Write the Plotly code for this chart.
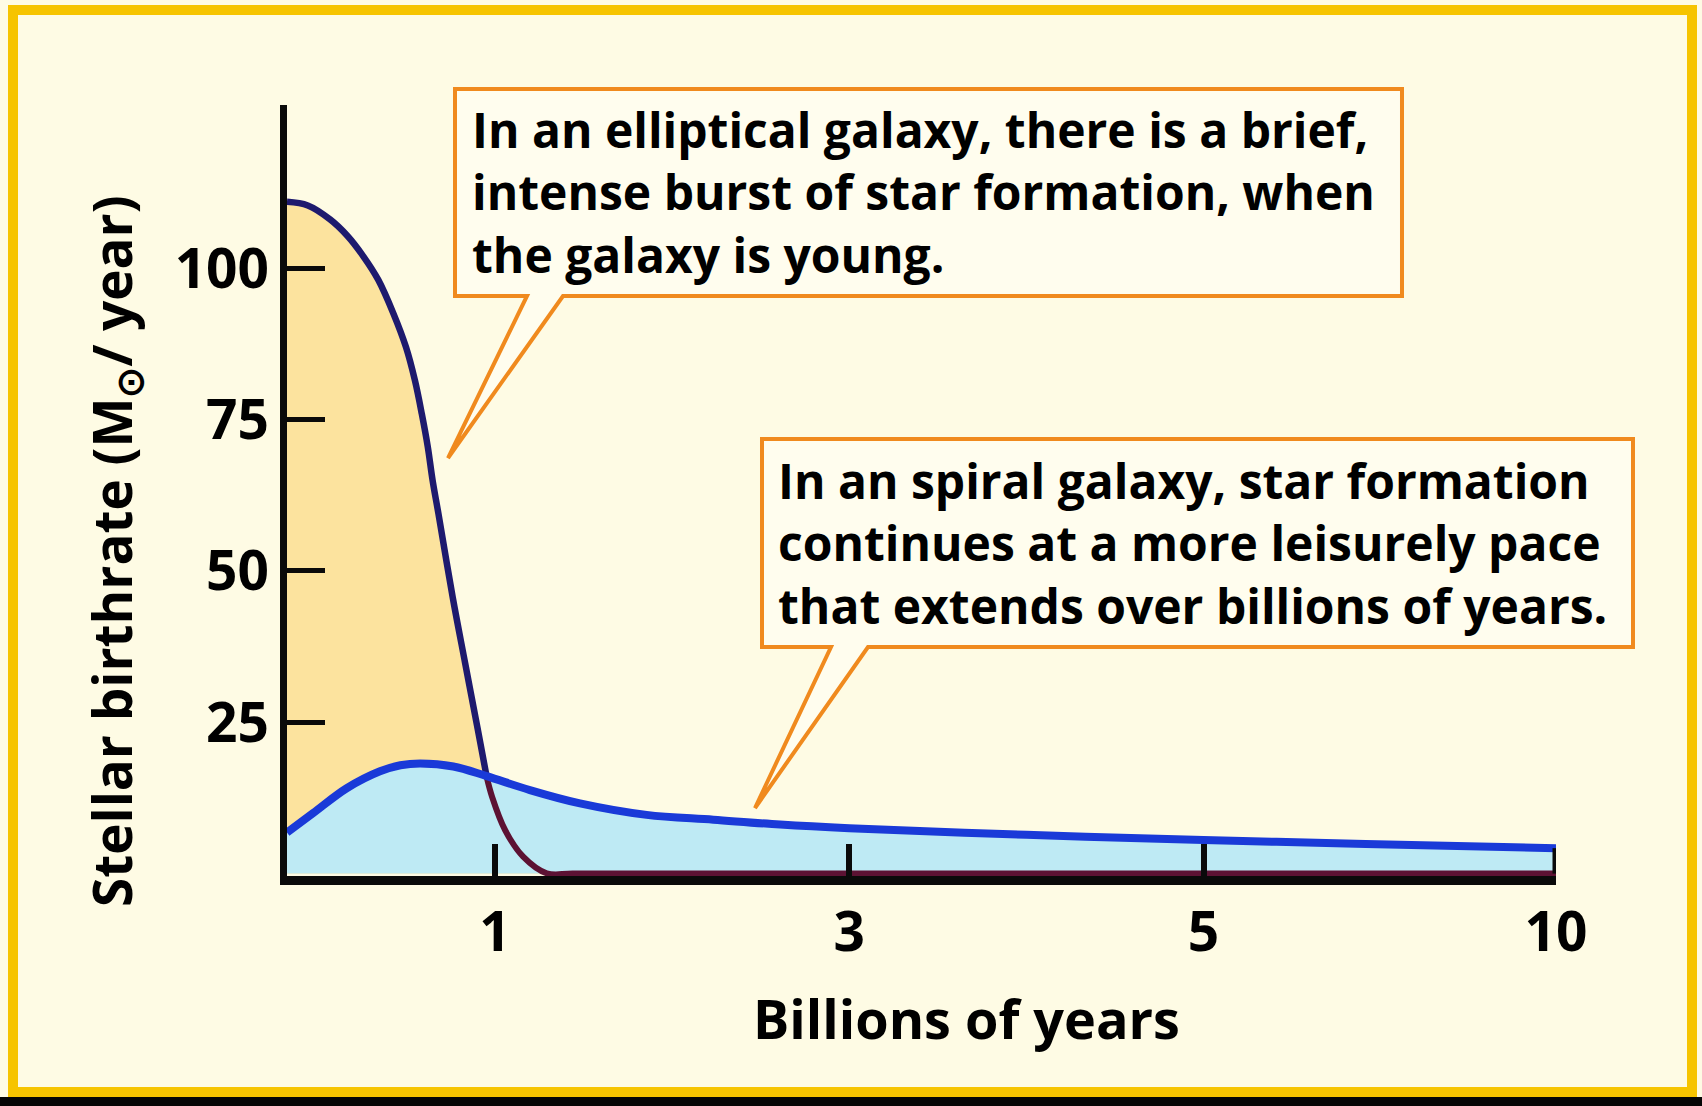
import numpy as np
import plotly.graph_objects as go

# ---------------- data ----------------
tick_years = [0, 1, 3, 5, 10]
tick_pos = [0, 0.59, 1.595, 2.6, 3.6]          # broken (non-linear) time axis
tick_labels = ["1", "3", "5", "10"]

ell_t = [0, 0.10, 0.207, 0.29, 0.367, 0.439, 0.511, 0.572, 0.615, 0.648, 0.677, 0.700, 0.728,
         0.797, 0.857, 0.918, 0.960, 0.986, 1.057, 1.159, 1.292, 1.44, 2, 3, 5, 10]
ell_v = [111.0, 110.4, 108.1, 105.4, 102.0, 98.1, 92.6, 87.0, 81.5, 76.0, 70.5, 65.0, 59.5,
         45.6, 34.7, 23.7, 16.0, 12.7, 7.2, 2.8, 0.05, 0, 0, 0, 0, 0]

sp_t = [0, 0.126, 0.287, 0.447, 0.545, 0.640, 0.800, 0.960, 1.197, 1.48, 1.856, 2.233,
        2.61, 3, 4, 5, 7.3, 10]
sp_v = [6.8, 10.0, 14.1, 16.9, 17.9, 18.2, 17.7, 16.1, 13.8, 11.6, 9.7, 8.9,
        8.1, 7.5, 6.4, 5.55, 4.9, 4.2]

y_ticks = [25, 50, 75, 100]
crossing_t = 0.96

# ---------------- layout geometry ----------------
W, H = 1702, 1106
L, R, T, B = 287, 146, 105, 230
PW, PH = W - L - R, H - T - B


def px2x(px):
    return (px - L) / PW


def py2y(py):
    return (H - B - py) / PH


def to_pos(t):
    return np.interp(t, tick_years, tick_pos)


ell_t = np.array(ell_t)
ell_v = np.array(ell_v)
ex = to_pos(ell_t)
sx = to_pos(np.array(sp_t))

navy = "#1E1A6E"
maroon = "#5C1233"
blue = "#1A3AD8"
orange_fill = "#FCE39E"
cyan_fill = "#BEEAF4"
orange = "#F08A1E"
cream = "#FEFBE4"
box_fill = "#FFFDEE"

FONT = "Open Sans"
SM = 1.0

fig = go.Figure()
fig.add_trace(go.Scatter(x=ex, y=ell_v, mode="lines", fill="tozeroy",
                         fillcolor=orange_fill, line=dict(width=0, shape="spline", smoothing=SM),
                         hoverinfo="skip", showlegend=False))
fig.add_trace(go.Scatter(x=sx, y=sp_v, mode="lines", fill="tozeroy",
                         fillcolor=cyan_fill, line=dict(width=0, shape="spline", smoothing=SM),
                         hoverinfo="skip", showlegend=False))
m1 = ell_t <= crossing_t
m2 = ell_t >= crossing_t
fig.add_trace(go.Scatter(x=ex[m1], y=ell_v[m1], mode="lines",
                         line=dict(color=navy, width=6.5, shape="spline", smoothing=SM),
                         hoverinfo="skip", showlegend=False))
fig.add_trace(go.Scatter(x=ex[m2], y=ell_v[m2], mode="lines",
                         line=dict(color=maroon, width=6, shape="spline", smoothing=SM),
                         hoverinfo="skip", showlegend=False))
fig.add_trace(go.Scatter(x=sx, y=sp_v, mode="lines",
                         line=dict(color=blue, width=8, shape="spline", smoothing=SM),
                         hoverinfo="skip", showlegend=False))

shapes = []
# yellow frame and black bottom band
shapes.append(dict(type="rect", xref="paper", yref="paper",
                   x0=px2x(13), x1=px2x(1692), y0=py2y(1092), y1=py2y(10),
                   line=dict(color="#F6C400", width=10), fillcolor="rgba(0,0,0,0)", layer="below"))
shapes.append(dict(type="rect", xref="paper", yref="paper",
                   x0=px2x(-5), x1=px2x(1710), y0=py2y(1112), y1=py2y(1097),
                   line=dict(width=0), fillcolor="#050505", layer="above"))
# right edge of the fills at the 10 Gyr end
shapes.append(dict(type="line", xref="x", yref="y",
                   x0=tick_pos[-1], x1=tick_pos[-1], y0=0, y1=sp_v[-1],
                   line=dict(color="#0A0A0A", width=7), layer="above"))


def callout(x0, y0, x1, y1, tl, tr, tip):
    pts = [(x0, y0), (x1, y0), (x1, y1), (tr, y1), tip, (tl, y1), (x0, y1)]
    d = "M " + " L ".join(f"{px2x(a):.5f},{py2y(b):.5f}" for a, b in pts) + " Z"
    return dict(type="path", xref="paper", yref="paper", path=d,
                fillcolor=box_fill, line=dict(color=orange, width=4), layer="above")


shapes.append(callout(455, 89, 1402, 296, 527, 563, (448, 458)))
shapes.append(callout(762, 439, 1633, 647, 831, 868, (755, 808)))

annotations = [
    dict(xref="paper", yref="paper", x=px2x(470), y=py2y(192), xanchor="left", yanchor="middle",
         align="left", showarrow=False,
         text="In an elliptical galaxy, there is a brief,<br>intense burst of star formation, when<br>the galaxy is young.",
         font=dict(family=FONT, size=48, color="black", weight=700)),
    dict(xref="paper", yref="paper", x=px2x(776), y=py2y(543), xanchor="left", yanchor="middle",
         align="left", showarrow=False,
         text="In an spiral galaxy, star formation<br>continues at a more leisurely pace<br>that extends over billions of years.",
         font=dict(family=FONT, size=48, color="black", weight=700)),
    dict(xref="paper", yref="paper", x=px2x(966), y=py2y(1018), xanchor="center", yanchor="middle",
         showarrow=False, text="Billions of years",
         font=dict(family=FONT, size=54, color="black", weight=700)),
    dict(xref="paper", yref="paper", x=px2x(114), y=py2y(551), xanchor="center", yanchor="middle",
         showarrow=False, textangle=-90, text="Stellar birthrate (M<sub>⊙</sub>/ year)",
         font=dict(family=FONT, size=53, color="black", weight=700)),
]

fig.update_layout(
    width=W, height=H,
    margin=dict(l=L, r=R, t=T, b=B, pad=0),
    paper_bgcolor=cream, plot_bgcolor="rgba(0,0,0,0)",
    shapes=shapes, annotations=annotations,
    xaxis=dict(range=[0, 3.6], tickvals=tick_pos[1:], ticktext=tick_labels,
               showgrid=False, zeroline=False, showline=True, linecolor="#0A0A0A", linewidth=9,
               ticks="inside", ticklen=32, tickwidth=6, tickcolor="#0A0A0A",
               tickfont=dict(family=FONT, size=55, color="black", weight=700),
               fixedrange=True),
    yaxis=dict(range=[-0.4, 127], tickvals=y_ticks, ticktext=[str(v) for v in y_ticks],
               showgrid=False, zeroline=False, showline=True, linecolor="#0A0A0A", linewidth=7,
               ticks="inside", ticklen=38, tickwidth=5, tickcolor="#0A0A0A",
               tickfont=dict(family=FONT, size=55, color="black", weight=700),
               fixedrange=True),
)

fig.write_html("out.html", config={"displayModeBar": False},
               post_script="document.body.style.margin='0';")
